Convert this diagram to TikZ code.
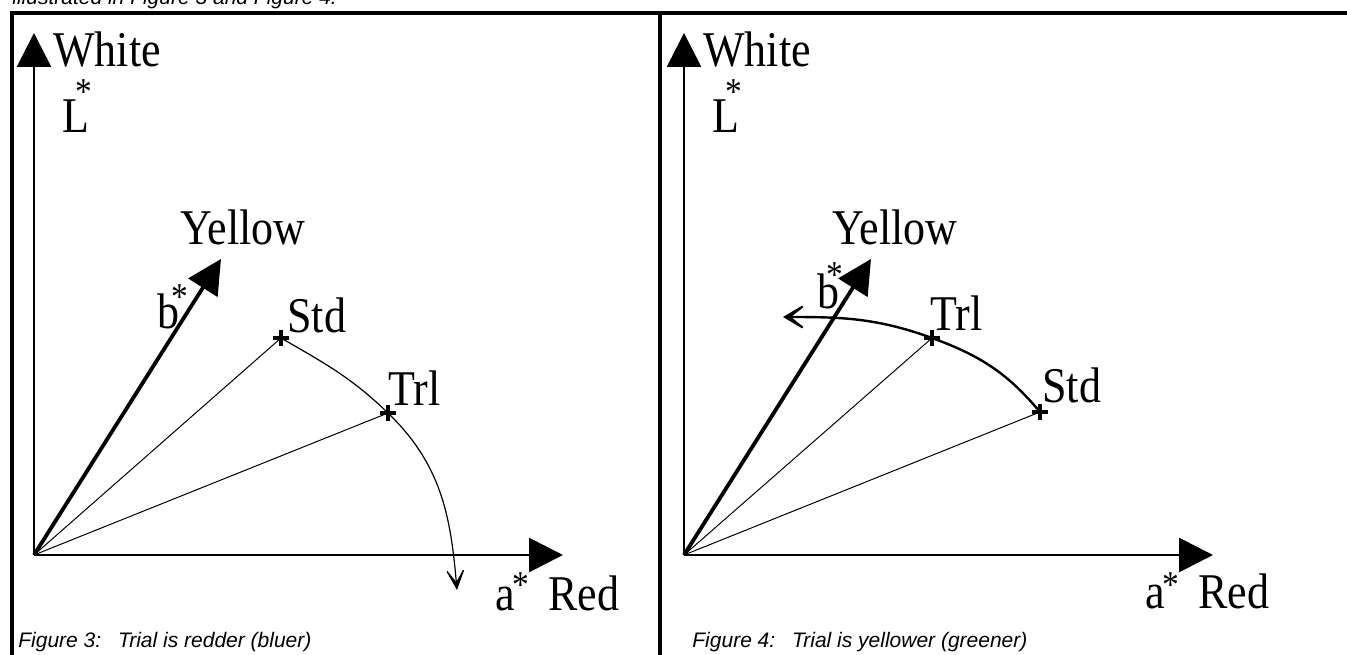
\documentclass[tikz,border=0pt]{standalone}
\usepackage{fontspec}
\setmainfont{Liberation Serif}[FakeStretch=0.88]
\newfontfamily\capfont{Liberation Sans}
\usetikzlibrary{arrows.meta,positioning}
\newcommand{\ptmark}[1]{\draw[line width=1.6pt] ([xshift=-3.8pt]#1) -- ([xshift=3.8pt]#1)
  ([yshift=-3.8pt]#1) -- ([yshift=3.8pt]#1);}

\begin{document}
\begin{tikzpicture}[x=0.5pt,y=0.5pt,
  lbl/.style={font=\fontsize{25}{28}\selectfont,inner sep=0pt,anchor=base west},
  asterisk/.style={font=\fontsize{19}{21}\selectfont,inner sep=0pt,anchor=north},
  captxt/.style={font=\capfont\itshape\fontsize{10.5}{12}\selectfont,inner sep=0pt,anchor=base west},
  axisline/.style={line width=1.4pt,-{Triangle[length=17pt,width=17pt]}},
  baxisline/.style={line width=1.9pt,-{Triangle[length=17pt,width=17pt]}},
  ray/.style={line width=0.5pt},
  framing/.style={line width=2.2pt}]
  \useasboundingbox (0,0) rectangle (1347,654);
  \clip (0,0) rectangle (1347,654);
  % page text above the figures, cut off
  \node[captxt] (pagetxt) at (12,649) {illustrated in Figure 3 and Figure 4.};
  % frames
  \draw[framing] (12,-5) -- (12,641) -- (1352,641);
  \draw[framing] (660,-5) -- (660,641);

  % Figure 3: trial redder
  \coordinate (oL) at (34,99);
  \coordinate (wL) at (34,621);
  \coordinate (rL) at (563,99);
  \coordinate (yL) at (221,395);
  \coordinate (sL) at (281,316); % Std
  \coordinate (tL) at (388,241); % Trl
  \coordinate (endL) at (457,64);
  \draw[axisline] (oL) -- (wL);
  \draw[axisline] (oL) -- (rL);
  \draw[baxisline] (oL) -- (yL);
  \draw[ray] (oL) -- (sL);
  \draw[ray] (oL) -- (tL);
  \draw[line width=0.6pt,-{Stealth[length=13pt,width=12pt,inset=9pt]}]
       (sL) to[out=-30,in=136] (tL) to[out=-44,in=95] (endL);
  \ptmark{sL} \ptmark{tL}
  \node[lbl] (whiteL) at (53,587) {White};
  \node[lbl] (LL) at (62,521) {L};
  \node[asterisk] (LsL) at (84,575) {*};
  \node[lbl] (yellowL) at (180,409) {Yellow};
  \node[lbl] (bL) at (157,326) {b};
  \node[asterisk] (bsL) at (180,370) {*};
  \node[lbl] (stdL) at ([shift={(6,6)}]sL) {Std};
  \node[lbl] (trlL) at ([shift={(0,8)}]tL) {Trl};
  \node[lbl] (aL) at (495,44) {a};
  \node[asterisk] (asL) at (521,82) {*};
  \node[lbl] (redL) at (548,44) {Red};
  \node[captxt] (capL) at (18,7) {Figure 3:\hskip0.8em Trial is redder (bluer)};

  % Figure 4: trial yellower
  \begin{scope}[shift={(650,0)}]
    \coordinate (oR) at (34,99);
    \coordinate (wR) at (34,621);
    \coordinate (rR) at (563,99);
    \coordinate (yR) at (221,395);
    \coordinate (tR) at (282,316); % Trl
    \coordinate (sR) at (390,242); % Std
    \coordinate (endR) at (133,337);
    \draw[axisline] (oR) -- (wR);
    \draw[axisline] (oR) -- (rR);
    \draw[baxisline] (oR) -- (yR);
    \draw[ray] (oR) -- (tR);
    \draw[ray] (oR) -- (sR);
    \draw[line width=1.2pt,-{Stealth[length=16pt,width=19pt,inset=12pt]}]
         (sR) to[out=130,in=-20] (tR) to[out=160,in=0] (endR);
    \ptmark{sR} \ptmark{tR}
    \node[lbl] (whiteR) at (53,587) {White};
    \node[lbl] (LR) at (62,521) {L};
    \node[asterisk] (LsR) at (84,575) {*};
    \node[lbl] (yellowR) at (182,409) {Yellow};
    \node[lbl] (bR) at (167,346) {b};
    \node[asterisk] (bsR) at (185,392) {*};
    \node[lbl] (trlR) at ([shift={(-2,8)}]tR) {Trl};
    \node[lbl] (stdR) at ([shift={(2,10)}]sR) {Std};
    \node[lbl] (aR) at (495,46) {a};
    \node[asterisk] (asR) at (521,82) {*};
    \node[lbl] (redR) at (548,46) {Red};
    \node[captxt] (capR) at (42,7) {Figure 4:\hskip0.8em Trial is yellower (greener)};
  \end{scope}
\end{tikzpicture}
\end{document}
